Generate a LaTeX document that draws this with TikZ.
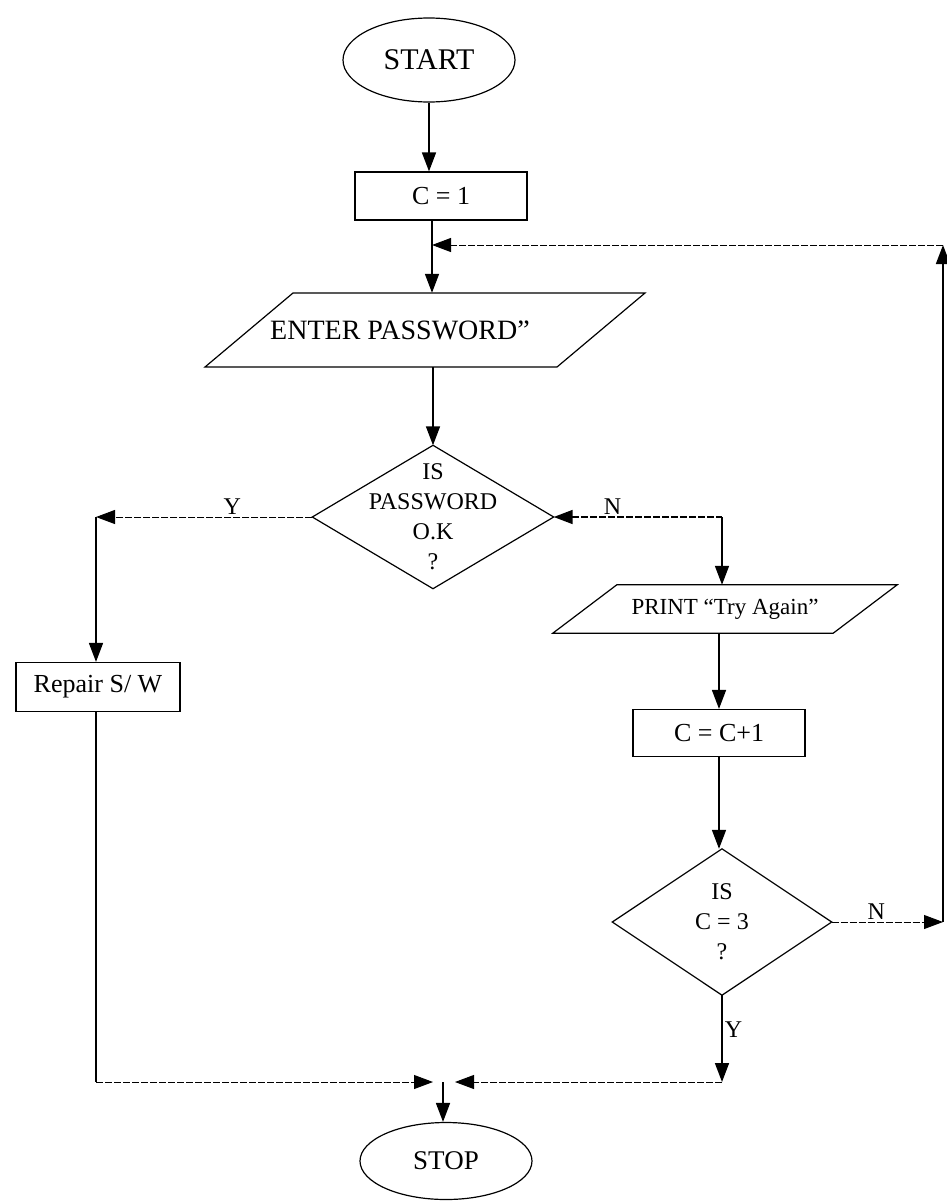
\documentclass[tikz,border=0pt]{standalone}
\usepackage{fontspec}
\setmainfont{Liberation Serif}
\usetikzlibrary{arrows.meta,shapes.geometric}

\begin{document}
\begin{tikzpicture}[x=1pt, y=-1pt,
	flow/.style={line width=1.6pt, -{Triangle[length=19pt,width=14pt]}},
	across/.style={line width=1pt, dash pattern=on 7pt off 2pt},
	outline/.style={line width=1.2pt},
	tag/.style={font=\fontsize{24}{28}\selectfont, inner sep=2pt}]

	\useasboundingbox (0,0) rectangle (946,1202);

	%% The terminals
	\begin{scope}[every node/.style={draw, outline, ellipse, inner sep=0pt}]
		\node[minimum width=172, minimum height=84, font=\fontsize{30}{34}\selectfont] at (429,60) (start) {START};
		\node[minimum width=172, minimum height=77, font=\fontsize{27}{31}\selectfont] at (446,1161) (stop) {STOP};
	\end{scope}

	%% The process boxes
	\begin{scope}[every node/.style={draw, outline, rectangle, inner sep=0pt, font=\fontsize{26}{30}\selectfont}]
		\node[minimum width=172, minimum height=48] at (441,196) (c1) {C = 1};
		\node[minimum width=172, minimum height=47] at (719,733) (inc) {C = C+1};
		\node[minimum width=164, minimum height=49, font=\fontsize{26}{30}\selectfont] at (98,687) (rep) {Repair S/ W};
	\end{scope}

	%% The input/output rows
	%% Outline drawn round the text node, shifted by hand
	\node[minimum height=74, inner sep=0pt, font=\fontsize{28}{32}\selectfont] at (400,330) (enter) {ENTER PASSWORD”};
	\draw[outline] ([shift={(-195,37)}]enter.center) -- ([shift={(157,37)}]enter.center) -- ([shift={(245,-37)}]enter.center) -- ([shift={(-107,-37)}]enter.center) -- cycle;

	\node[minimum width=280, minimum height=48, inner sep=0pt, font=\fontsize{23}{27}\selectfont] at (725,609) (prn) {PRINT “Try Again”};
	\draw[outline] ([xshift=-32]prn.south west) -- ([xshift=-32]prn.south east) -- ([xshift=32]prn.north east) -- ([xshift=32]prn.north west) -- cycle;

	%% The decisions
	\begin{scope}[every node/.style={align=center, inner sep=0pt, font=\fontsize{24}{30}\selectfont}]
		\node[minimum width=241, minimum height=143] at (433,517) (pwd) {IS\\PASSWORD\\O.K\\?};
		\node[minimum width=219, minimum height=146] at (722,922) (cnt) {IS\\C = 3\\?};
	\end{scope}
	\draw[outline] (pwd.north) -- (pwd.east) -- (pwd.south) -- (pwd.west) -- cycle;
	\draw[outline] (cnt.north) -- (cnt.east) -- (cnt.south) -- (cnt.west) -- cycle;

	%% The corners of the connectors
	\coordinate (loop) at (432,245);
	\coordinate (ytop) at (96,517);
	\coordinate (ntop) at (722,517);
	\coordinate (nright) at (943,922);
	\coordinate (rtop) at (943,245);
	\coordinate (ybot) at (96,1082);
	\coordinate (join) at (443,1082);
	\coordinate (cbot) at (722,1082);

	%% The main line
	\draw[flow] (start.south) -- (start.south |- c1.north);
	\draw[flow] (c1.south -| loop) -- (enter.north -| loop);
	\draw[flow] (pwd.north |- enter.south) -- (pwd.north);

	%% The Y branch
	\draw[flow, across] (pwd.west) -- (ytop) node[tag, above, pos=0.37] (ylab) {Y};
	\draw[flow] (ytop) -- (rep.north -| ytop);
	\draw[outline] (rep.south -| ytop) -- (ybot);
	\draw[flow, across] (ybot) -- ([xshift=-10]join);

	%% The N branch
	\draw[across, line width=1.6pt, {Triangle[length=19pt,width=14pt]}-] (pwd.east) -- (ntop) node[tag, above, pos=0.35] (nlab) {N};
	\draw[flow] (ntop) -- (prn.north -| ntop);
	\draw[flow] (inc.north |- prn.south) -- (inc.north);
	\draw[flow] (inc.south) -- (inc.south |- cnt.north);

	%% The count test
	\draw[flow, across] (cnt.east) -- (nright) node[tag, above, pos=0.4] (nlab2) {N};
	\draw[flow] (nright) -- (rtop);
	\draw[flow, across] (rtop) -- (loop);
	\draw[flow] (cnt.south) -- (cbot) node[tag, right, pos=0.4] (ylab2) {Y};
	\draw[flow, across] (cbot) -- ([xshift=12]join);

	%% The end
	\draw[flow] (join) -- (join |- stop.north);

\end{tikzpicture}
\end{document}
